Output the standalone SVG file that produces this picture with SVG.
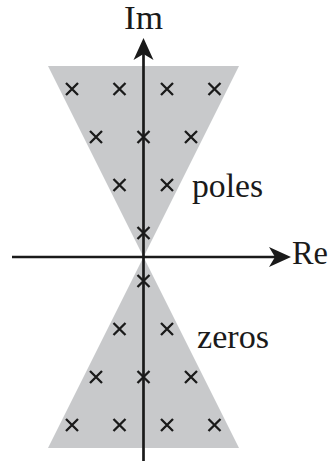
<svg xmlns="http://www.w3.org/2000/svg" xmlns:xlink="http://www.w3.org/1999/xlink" width="329" height="462" viewBox="0 0 329 462">
<style>
.region{fill:#c8c9cb;stroke:none}
.axis{stroke:#1a1a1a;stroke-width:2.7;fill:none}
.cross{stroke:#1a1a1a;stroke-width:2.3;fill:none}
.lbl{font-family:"Liberation Serif","Times New Roman",serif;font-size:33px;fill:#1a1a1a}
</style>
<defs>
<marker id="arr" viewBox="-23 -11 24 22" refX="-10" refY="0" markerWidth="24" markerHeight="22" markerUnits="userSpaceOnUse" orient="auto">
<path d="M0,0 L-22,-10 L-16,0 L-22,10 Z" fill="#1a1a1a"/>
</marker>
<path id="x" d="M-6,-6 L6,6 M6,-6 L-6,6"/>
</defs>
<g id="poles-region"><polygon class="region" points="48,66 239,66 143.5,257"/></g>
<g id="zeros-region"><polygon class="region" points="143.5,257 239,448 48,448"/></g>
<g id="pole-marks" class="cross">
<use xlink:href="#x" x="72" y="89"/><use xlink:href="#x" x="119.5" y="89"/><use xlink:href="#x" x="167" y="89"/><use xlink:href="#x" x="214.5" y="89"/>
<use xlink:href="#x" x="96" y="137"/><use xlink:href="#x" x="143.5" y="137"/><use xlink:href="#x" x="191" y="137"/>
<use xlink:href="#x" x="119.5" y="185"/><use xlink:href="#x" x="167" y="185"/>
<use xlink:href="#x" x="143.5" y="233"/>
</g>
<g id="zero-marks" class="cross">
<use xlink:href="#x" x="143.5" y="281"/>
<use xlink:href="#x" x="119.5" y="329"/><use xlink:href="#x" x="167" y="329"/>
<use xlink:href="#x" x="96" y="377"/><use xlink:href="#x" x="143.5" y="377"/><use xlink:href="#x" x="191" y="377"/>
<use xlink:href="#x" x="72" y="425"/><use xlink:href="#x" x="119.5" y="425"/><use xlink:href="#x" x="167" y="425"/><use xlink:href="#x" x="214.5" y="425"/>
</g>
<g id="connectors">
<line class="axis" x1="143.5" y1="461" x2="143.5" y2="48" marker-end="url(#arr)"/>
<line class="axis" x1="12" y1="257" x2="281" y2="257" marker-end="url(#arr)"/>
</g>
<g id="label-im"><text class="lbl" x="124" y="29" textLength="39" lengthAdjust="spacingAndGlyphs">Im</text></g>
<g id="label-re"><text class="lbl" x="292" y="264" textLength="36" lengthAdjust="spacingAndGlyphs">Re</text></g>
<g id="label-poles"><text class="lbl" x="192" y="197" textLength="71" lengthAdjust="spacingAndGlyphs">poles</text></g>
<g id="label-zeros"><text class="lbl" x="197" y="348" textLength="72" lengthAdjust="spacingAndGlyphs">zeros</text></g>
</svg>
